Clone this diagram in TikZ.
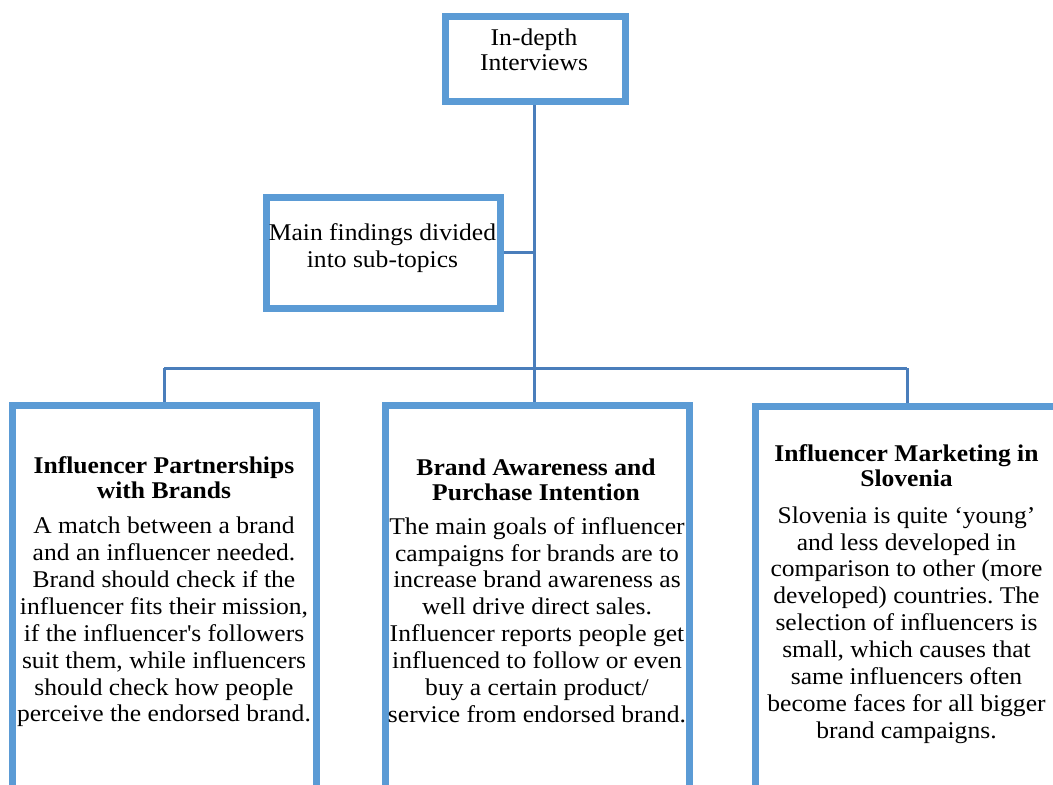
\documentclass[tikz,border=0pt]{standalone}
\usepackage{fontspec}
\setmainfont[FakeStretch=1.065]{Liberation Serif}
\frenchspacing
\definecolor{boxblue}{HTML}{5B9BD5}
\definecolor{linkblue}{HTML}{4A7EBB}
\tikzset{
  frame/.style={draw=boxblue, line width=7pt, fill=white, inner sep=0pt},
  link/.style={draw=linkblue, line width=3pt},
  bodytxt/.style={align=center, inner sep=0pt, font=\fontsize{24}{26.9}\selectfont},
  headtxt/.style={align=center, inner sep=0pt, font=\fontsize{24}{25}\selectfont\bfseries},
  smalltxt/.style={align=center, inner sep=0pt, font=\fontsize{24}{24.5}\selectfont},
}
\begin{document}
\begin{tikzpicture}[x=1pt, y=-1pt]
\useasboundingbox (0,0) rectangle (1053,785);
\clip (0,0) rectangle (1053,785);
\fill[white] (0,0) rectangle (1053,785);
% connectors
\coordinate (bus) at (534,368);
% boxes
\node[frame, minimum width=180pt, minimum height=85pt] (top) at (535.5,59) {};
\node[frame, minimum width=234pt, minimum height=111pt] (main) at (383.5,253) {};
\node[frame, anchor=north, minimum width=304pt, minimum height=420pt] (b1) at (164,402) {};
\node[frame, anchor=north, minimum width=304pt, minimum height=420pt] (b2) at (537,402) {};
\node[frame, anchor=north, minimum width=304pt, minimum height=420pt] (b3) at (907,403) {};
\draw[link] (top.south -| bus) -- (bus);
\draw[link] (main.east |- 0,252) -- (bus |- 0,252);
\draw[link] (b1.north |- bus) -- (b3.north |- bus);
\draw[link] (b1.north |- bus) -- (b1.north);
\draw[link] (bus) -- (b2.north -| bus);
\draw[link] (b3.north |- bus) -- (b3.north);
% texts
\node[smalltxt] (ttop) at (534,50) {In-depth\\Interviews};
\node[bodytxt] (tmain) at (382.5,248) {Main findings divided\\into sub-topics};
\node[headtxt] (h1) at (164,478) {Influencer Partnerships\\with Brands};
\node[bodytxt] (t1) at (164,622) {A match between a brand\\and an influencer needed.\\Brand should check if the\\influencer fits their mission,\\if the influencer\textquotesingle s followers\\suit them, while influencers\\should check how people\\perceive the endorsed brand.};
\node[headtxt] (h2) at (536,479.5) {Brand Awareness and\\Purchase Intention};
\node[bodytxt] (t2) at (537,620) {The main goals of influencer\\campaigns for brands are to\\increase brand awareness as\\well drive direct sales.\\Influencer reports people get\\influenced to follow or even\\buy a certain product/\\service from endorsed brand.};
\node[headtxt] (h3) at (906.5,465.5) {Influencer Marketing in\\Slovenia};
\node[bodytxt] (t3) at (906.5,625) {Slovenia is quite ‘young’\\and less developed in\\comparison to other (more\\developed) countries. The\\selection of influencers is\\small, which causes that\\same influencers often\\become faces for all bigger\\brand campaigns.};
\end{tikzpicture}
\end{document}
